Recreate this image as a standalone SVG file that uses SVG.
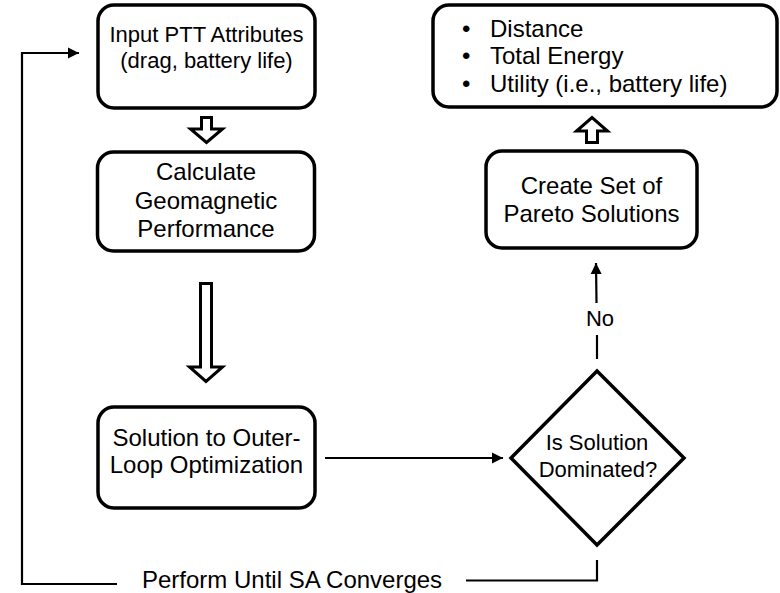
<svg xmlns="http://www.w3.org/2000/svg" width="780" height="593" viewBox="0 0 780 593">
  <style>
    .box { fill: #fff; stroke: #000; stroke-width: 3.5; }
    .blk { fill: #fff; stroke: #000; stroke-width: 3; stroke-linejoin: miter; }
    .ln { fill: none; stroke: #000; stroke-width: 2.2; }
    text { font-family: "Liberation Sans", Arial, sans-serif; fill: #000; }
    .t24 { font-size: 24px; }
    .t22 { font-size: 22px; }
    .mid { text-anchor: middle; }
  </style>
  <defs>
    <marker id="ah" viewBox="0 0 10 10" refX="10" refY="5" markerWidth="5.2" markerHeight="5.2" orient="auto" markerUnits="strokeWidth">
      <path d="M0,0 L10,5 L0,10 Z" fill="#000"/>
    </marker>
  </defs>

  <rect width="780" height="593" fill="#fff"/>

  <g id="connectors">
    <!-- block arrows between process boxes -->
    <path class="blk" d="M201.5,117.5 H211.5 V129 H222.5 L206.5,142.5 L190.5,129 H201.5 Z"/>
    <path class="blk" d="M200.5,283.5 H211.5 V367 H222.5 L206,381.5 L189.5,367 H200.5 Z"/>
    <path class="blk" d="M586.5,142.5 H597.5 V131 H607.5 L592,117.5 L576.5,131 H586.5 Z"/>
    <!-- Solution box to decision -->
    <line class="ln" x1="325" y1="458" x2="503" y2="458" marker-end="url(#ah)"/>
    <!-- decision "No" branch upward -->
    <line class="ln" x1="597" y1="359" x2="597" y2="335"/>
    <line class="ln" x1="596.5" y1="303" x2="596" y2="263" marker-end="url(#ah)"/>
    <!-- loop back to input -->
    <polyline class="ln" points="597,560 597,580.5 466,580.5"/>
    <polyline class="ln" points="117,584 22,584 22,53 79,53" marker-end="url(#ah)"/>
  </g>

  <g id="node-input">
    <rect class="box" x="98" y="5" width="217" height="103" rx="16"/>
    <text class="t22 mid" x="206.5" y="42">Input PTT Attributes</text>
    <text class="t22 mid" x="206.5" y="68">(drag, battery life)</text>
  </g>

  <g id="node-geomagnetic">
    <rect class="box" x="97.5" y="152" width="217" height="99" rx="16"/>
    <text class="t24 mid" x="206" y="180">Calculate</text>
    <text class="t24 mid" x="206" y="208.5">Geomagnetic</text>
    <text class="t24 mid" x="206" y="237">Performance</text>
  </g>

  <g id="node-solution">
    <rect class="box" x="98" y="407" width="217" height="101" rx="16"/>
    <text class="t24 mid" x="206.5" y="446">Solution to Outer-</text>
    <text class="t24 mid" x="206.5" y="473">Loop Optimization</text>
  </g>

  <g id="node-decision">
    <path class="box" d="M597,371 L684,458 L597,545 L511,458 Z"/>
    <text class="t22 mid" x="597" y="450">Is Solution</text>
    <text class="t22 mid" x="598" y="477">Dominated?</text>
  </g>

  <g id="node-pareto">
    <rect class="box" x="486" y="151" width="211" height="97" rx="16"/>
    <text class="t24 mid" x="591.5" y="194">Create Set of</text>
    <text class="t24 mid" x="591.5" y="222">Pareto Solutions</text>
  </g>

  <g id="node-objectives">
    <rect class="box" x="433" y="5" width="344" height="102" rx="16"/>
    <text class="t24" x="462" y="36.7">•</text>
    <text class="t24" x="490" y="36.7">Distance</text>
    <text class="t24" x="462" y="64.2">•</text>
    <text class="t24" x="490" y="64.2">Total Energy</text>
    <text class="t24" x="462" y="91.7">•</text>
    <text class="t24" x="490" y="91.7">Utility (i.e., battery life)</text>
  </g>

  <g id="labels">
    <text class="t22 mid" x="600" y="326">No</text>
    <text class="t24" x="142" y="588">Perform Until SA Converges</text>
  </g>
</svg>
